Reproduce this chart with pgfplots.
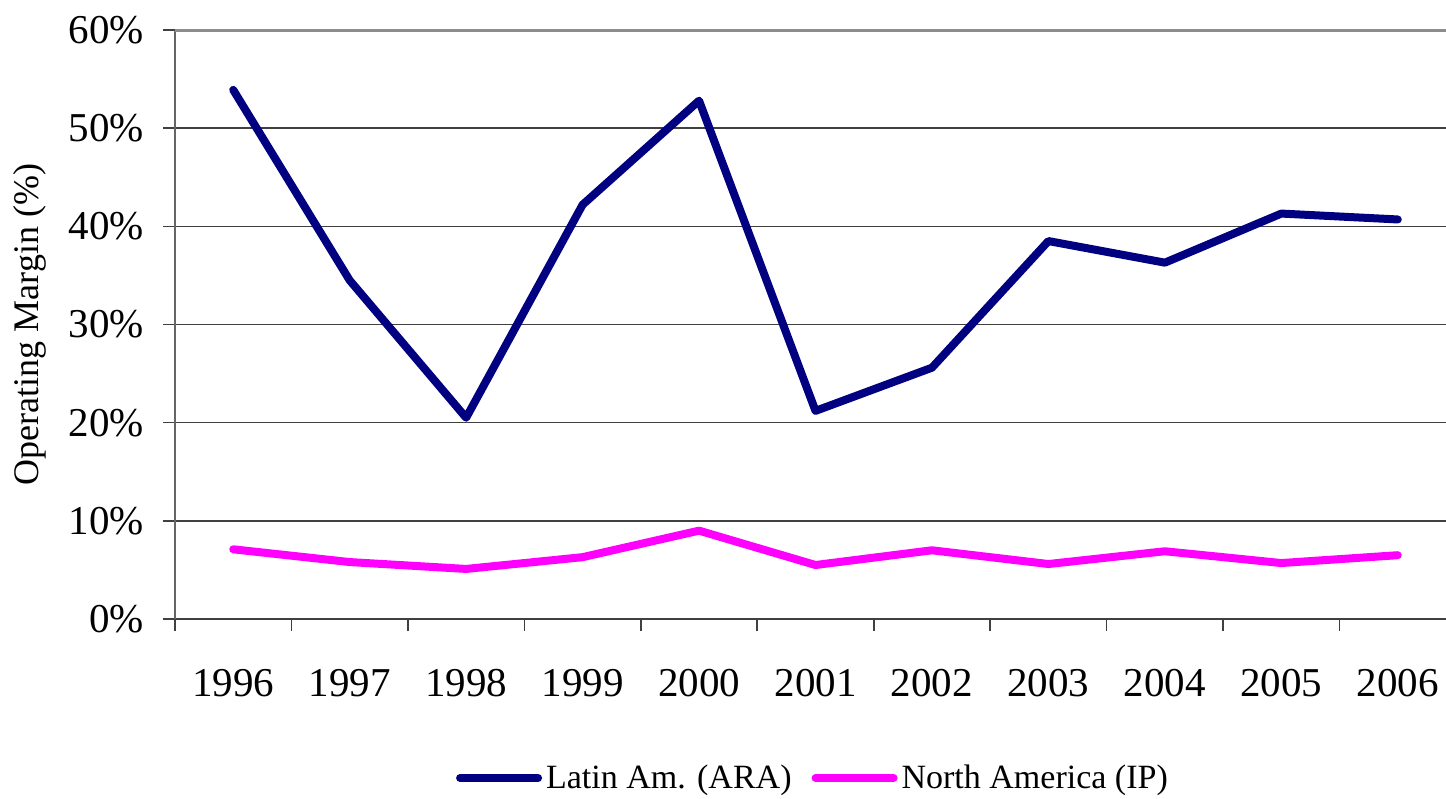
\documentclass[border=0pt]{standalone}
\usepackage{fontspec}
\setmainfont{Liberation Serif}
\usepackage{pgfplots}
\pgfplotsset{compat=1.18}
\definecolor{latam}{HTML}{000080}
\definecolor{noram}{HTML}{FF00FF}
\definecolor{gridc}{HTML}{404040}
\definecolor{framec}{HTML}{8C8C8C}

\begin{document}
\begin{tikzpicture}
\useasboundingbox (0,0) rectangle (723pt,399pt);
\clip (0,0) rectangle (723pt,399pt);
\begin{axis}[
  at={(87.5pt,89.5pt)}, anchor=south west,
  scale only axis, width=640.5pt, height=294.5pt,
  xmin=0.5, xmax=11.5, ymin=0, ymax=60,
  xtick={0.5,1.5,...,11.5},
  x tick label as interval,
  xticklabels={1996,1997,1998,1999,2000,2001,2002,2003,2004,2005,2006},
  ytick={0,10,...,60},
  yticklabel={\pgfmathprintnumber{\tick}\%},
  /pgf/number format/assume math mode=true,
  tick align=outside, tick pos=left,
  major tick length=6pt,
  tick style={gridc, line width=0.8pt},
  axis x line*=bottom, axis y line*=left,
  x axis line style={gridc, line width=1.2pt, -},
  y axis line style={gridc!80, line width=1.4pt, -},
  ymajorgrids, grid style={gridc, line width=0.7pt},
  tick label style={font=\fontsize{20.5}{22}\selectfont},
  xticklabel style={yshift=-15.5pt},
  yticklabel style={xshift=-6pt},
  ylabel={Operating Margin (\%)},
  ylabel style={font=\fontsize{18}{20}\selectfont, yshift=4.5pt},
  legend columns=2,
  legend style={at={(0.4988,-0.27)}, anchor=center, draw=none, fill=none,
    font=\fontsize{17}{19}\selectfont,
    /tikz/every even column/.append style={column sep=8pt}},
  legend image code/.code={\draw[#1, line cap=round] (0pt,0pt) -- (39pt,0pt);},
  every axis plot/.append style={line width=4pt, line join=round, line cap=round},
]
\addplot[latam] coordinates {(1,53.9) (2,34.5) (3,20.5) (4,42.2) (5,52.8) (6,21.2) (7,25.6) (8,38.5) (9,36.3) (10,41.3) (11,40.7)};
\addlegendentry{Latin Am. (ARA)}
\addplot[noram] coordinates {(1,7.1) (2,5.8) (3,5.1) (4,6.3) (5,9.0) (6,5.5) (7,7.0) (8,5.6) (9,6.9) (10,5.7) (11,6.5)};
\addlegendentry{North America (IP)}
\draw[framec, line width=1.8pt] (rel axis cs:0,1) -- (rel axis cs:1,1);
\end{axis}
\end{tikzpicture}
\end{document}
